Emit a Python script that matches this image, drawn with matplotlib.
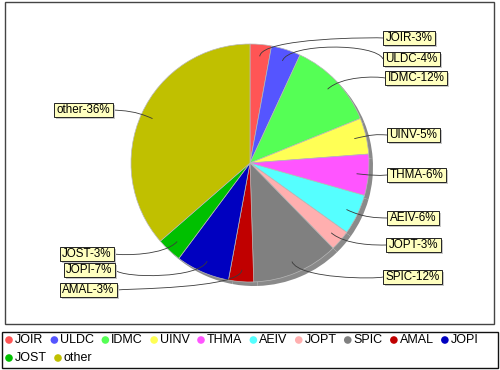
import numpy as np
import matplotlib
matplotlib.use("Agg")
import matplotlib.pyplot as plt
from matplotlib.patches import Rectangle, Circle
from matplotlib.path import Path
from matplotlib.patches import PathPatch

# ---- data ----
categories = ['JOIR', 'ULDC', 'IDMC', 'UINV', 'THMA', 'AEIV', 'JOPT', 'SPIC',
              'AMAL', 'JOPI', 'JOST', 'other']
shares = [2.9, 4.0, 12.0, 4.9, 5.6, 5.5, 2.8, 11.8, 3.4, 7.3, 3.4, 36.4]

# ---- style ----
colors = ['#FF5555', '#5555FF', '#55FF55', '#FFFF55', '#FF55FF', '#55FFFF',
          '#FFAFAF', '#808080', '#C00000', '#0000C0', '#00C000', '#C0C000']
# label layout (pixel coords from top-left): near-edge x, centre y
label_edge_x = [383, 383, 385, 387, 387, 387, 386, 383, 117, 115, 114, 113]
label_y = [38, 59, 78, 135, 175, 218, 245, 277, 290, 270, 254, 110]

W, H = 500, 370
plt.rcParams['font.family'] = ['Liberation Sans', 'DejaVu Sans']
FS = 8.4
LEG_FS = 9.0

fig = plt.figure(figsize=(W / 100, H / 100), dpi=100)
ax = fig.add_axes([0, 0, 1, 1])


def Y(y):
    return H - y


cx, cy, r = 250, 163, 119

# shadow
ax.pie(shares, colors=['#8a8a8a'] * len(shares), startangle=90, counterclock=False,
       center=(cx + 4, Y(cy + 4)), radius=r, frame=True,
       wedgeprops=dict(linewidth=0, edgecolor='none', zorder=1))
# pie
ax.pie(shares, colors=colors, startangle=90, counterclock=False,
       center=(cx, Y(cy)), radius=r, frame=True,
       wedgeprops=dict(linewidth=0.5, edgecolor='#b8b8b8', zorder=2))

ax.set_xlim(0, W)
ax.set_ylim(0, H)
ax.set_aspect('equal')
ax.axis('off')

# plot border
ax.add_patch(Rectangle((5, Y(324)), 489, 322, fill=False, edgecolor='#444444', lw=1.0, zorder=0))
# legend border
ax.add_patch(Rectangle((2, Y(368)), 496, 36, fill=False, edgecolor='#111111', lw=1.0, zorder=0))

renderer = fig.canvas.get_renderer()

# labels with links
total = float(sum(shares))
cum = 0.0
link_r = 0.9 * r
elbow_r = 1.06 * r
padx, pady = 2.5, 1.0
for cat, v, ex, ly in zip(categories, shares, label_edge_x, label_y):
    mid = (cum + v / 2) / total * 2 * np.pi
    cum += v
    sx, sy = np.sin(mid), np.cos(mid)
    right = mid < np.pi
    p0 = (cx + sx * link_r, Y(cy) + sy * link_r)
    p1 = (cx + sx * elbow_r, Y(cy) + sy * elbow_r)
    ax_x = cx + elbow_r if right else cx - elbow_r
    p2 = (ax_x, p1[1])
    p3 = (ex, Y(ly))
    path = Path([p0, p1, p2, p3], [Path.MOVETO, Path.CURVE4, Path.CURVE4, Path.CURVE4])
    ax.add_patch(PathPatch(path, fill=False, edgecolor='#3a3a3a', lw=0.6, zorder=3))
    txt = f"{cat}-{int(v + 0.5)}%"
    tx = ex + padx if right else ex - padx
    ha = 'left' if right else 'right'
    t = ax.text(tx, Y(ly), txt, ha=ha, va='center', fontsize=FS, color='black', zorder=6)
    bb = t.get_window_extent(renderer)
    bx0, by0 = bb.x0 - padx, bb.y0 - pady
    bw, bh = bb.width + 2 * padx, bb.height + 2 * pady
    ax.add_patch(Rectangle((bx0 + 2, by0 - 2), bw, bh, facecolor='#c8c8c8',
                           edgecolor='none', zorder=4))
    ax.add_patch(Rectangle((bx0, by0), bw, bh, facecolor='#FFFFC0',
                           edgecolor='#222222', lw=0.7, zorder=5))

# legend
rows_y = [340, 358]
row = 0
x = 9
for cat, col in zip(categories, colors):
    t = ax.text(x + 6, Y(rows_y[row]), cat, ha='left', va='center', fontsize=LEG_FS, zorder=5)
    w = t.get_window_extent(renderer).width
    if x + 6 + w > 494:
        row += 1
        x = 9
        t.set_position((x + 6, Y(rows_y[row])))
    ax.add_patch(Circle((x, Y(rows_y[row])), 3.8, facecolor=col, edgecolor='none', zorder=5))
    x = x + 6 + w + 11

fig.savefig('out.png', dpi=100)
